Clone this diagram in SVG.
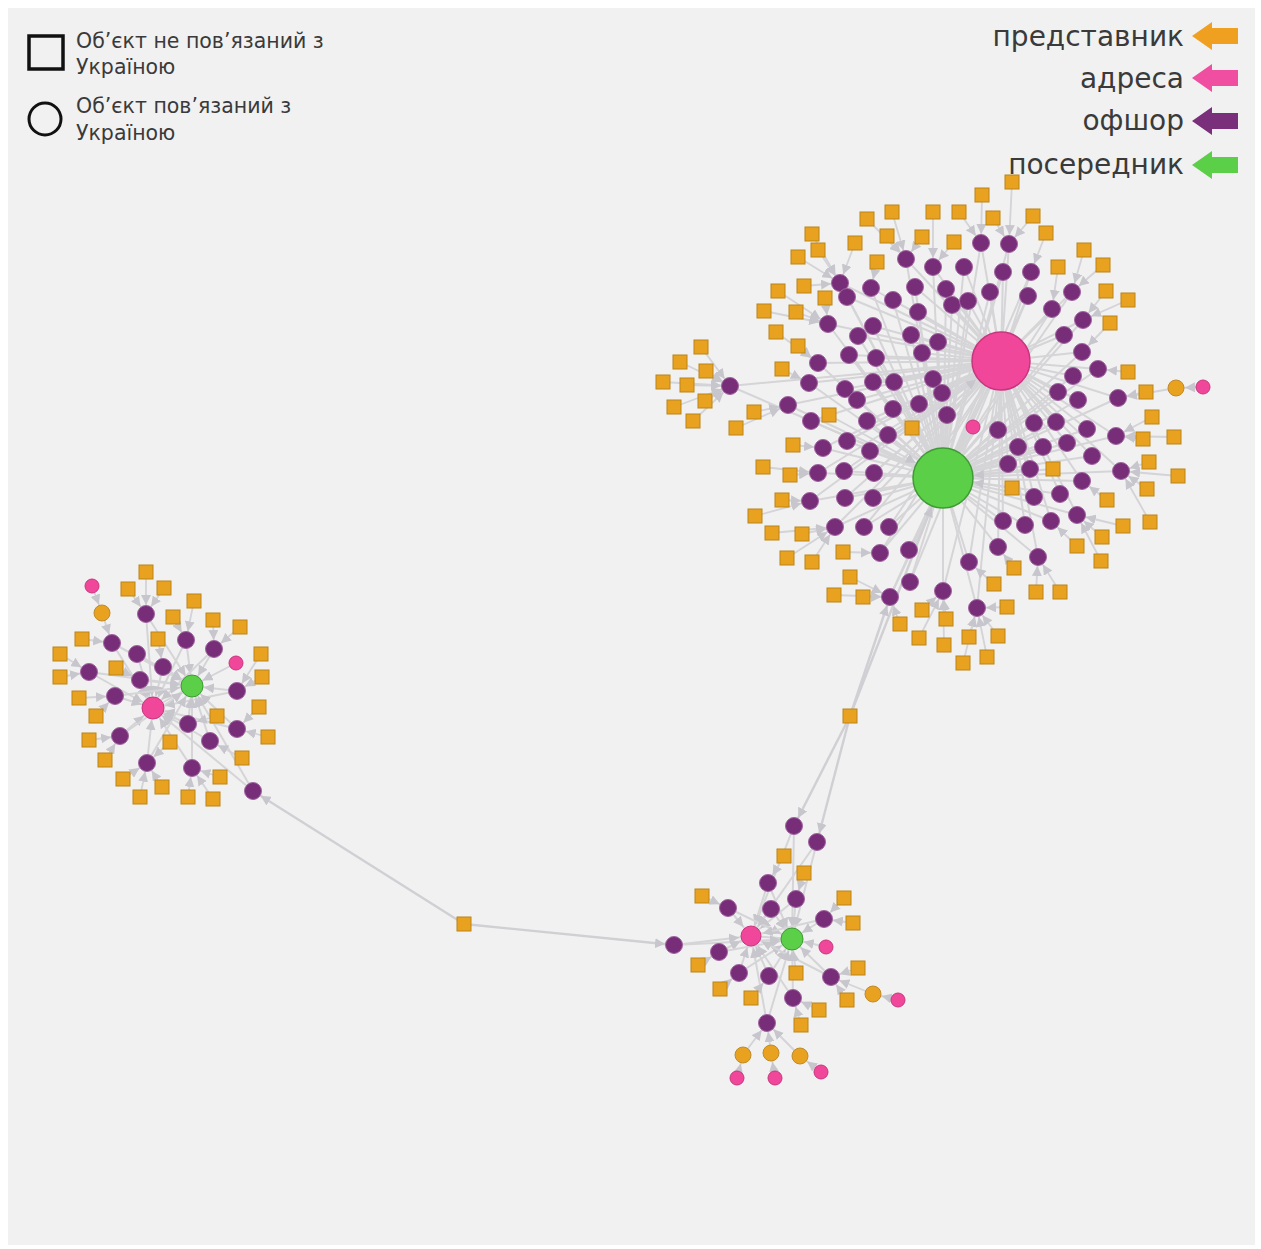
<svg xmlns="http://www.w3.org/2000/svg" xmlns:xlink="http://www.w3.org/1999/xlink" width="1261" height="1249" viewBox="0 0 1261 1249">
<style>
.e{stroke:#d3d3d8;stroke-width:1.8;fill:none}
.h{stroke:#d5d5d8;stroke-width:2;fill:none}
.l{stroke:#cfcfd4;stroke-width:2.4;fill:none}
.t{font-family:"DejaVu Sans","Liberation Sans",sans-serif;fill:#3a3a3a}
.tl{font-size:20.5px}
.tr{font-size:28px;text-anchor:end}
</style>
<defs>
<marker id="a8" viewBox="0 0 10 10" refX="19" refY="5" markerWidth="10" markerHeight="10" markerUnits="userSpaceOnUse" orient="auto"><path d="M0,0L10,5L0,10z" fill="#c6c6cc"/></marker>
<marker id="a11" viewBox="0 0 10 10" refX="22" refY="5" markerWidth="10" markerHeight="10" markerUnits="userSpaceOnUse" orient="auto"><path d="M0,0L10,5L0,10z" fill="#c6c6cc"/></marker>
<marker id="aH" viewBox="0 0 10 10" refX="41" refY="5" markerWidth="10" markerHeight="10" markerUnits="userSpaceOnUse" orient="auto"><path d="M0,0L10,5L0,10z" fill="#c6c6cc"/></marker>
<rect id="sq" x="-7" y="-7" width="14" height="14" fill="#e9a21f" stroke="#b98419" stroke-width="1"/>
<circle id="of" r="8.5" fill="#772d78" stroke="#a0649f" stroke-width="1"/>
<circle id="pk" r="7" fill="#f0479b" stroke="#c8357e" stroke-width="1"/>
<circle id="oc" r="8" fill="#e9a21f" stroke="#c08a2a" stroke-width="1"/>
</defs>
<rect width="1261" height="1249" fill="#ffffff"/>
<rect x="8" y="8" width="1247" height="1237" fill="#f1f1f1"/>

<g id="legend">
<rect x="29" y="36" width="34" height="33" fill="none" stroke="#111" stroke-width="3.5"/>
<text class="t tl" x="76" y="48">Об’єкт не пов’язаний з</text>
<text class="t tl" x="76" y="74">Україною</text>
<circle cx="45" cy="119" r="16" fill="none" stroke="#111" stroke-width="3"/>
<text class="t tl" x="76" y="113">Об’єкт пов’язаний з</text>
<text class="t tl" x="76" y="140">Україною</text>
<text class="t tr" x="1184" y="46">представник</text>
<polygon points="1192,36 1212,22 1212,28 1238,28 1238,44 1212,44 1212,50" fill="#f0a020"/>
<text class="t tr" x="1184" y="88">адреса</text>
<polygon points="1192,78 1212,64 1212,70 1238,70 1238,86 1212,86 1212,92" fill="#f04ea0"/>
<text class="t tr" x="1184" y="130">офшор</text>
<polygon points="1192,121 1212,107 1212,113 1238,113 1238,129 1212,129 1212,135" fill="#7a2f7a"/>
<text class="t tr" x="1184" y="174">посередник</text>
<polygon points="1192,165 1212,151 1212,157 1238,157 1238,173 1212,173 1212,179" fill="#5ccf48"/>
</g>

<g id="connectors">
<path class="h" d="M1001 361L943 478"/>
<path class="h" d="M973 427L943 478"/>
<path class="h" d="M906 259L1001 361"/><path class="h" d="M906 259L943 478"/>
<path class="h" d="M933 267L1001 361"/><path class="h" d="M933 267L943 478"/>
<path class="h" d="M981 243L1001 361"/><path class="h" d="M981 243L943 478"/>
<path class="h" d="M1009 244L1001 361"/><path class="h" d="M1009 244L943 478"/>
<path class="h" d="M964 267L1001 361"/><path class="h" d="M964 267L943 478"/>
<path class="h" d="M1003 272L1001 361"/><path class="h" d="M1003 272L943 478"/>
<path class="h" d="M1031 272L1001 361"/><path class="h" d="M1031 272L943 478"/>
<path class="h" d="M840 283L1001 361"/><path class="h" d="M840 283L943 478"/>
<path class="h" d="M847 297L1001 361"/><path class="h" d="M847 297L943 478"/>
<path class="h" d="M871 288L1001 361"/><path class="h" d="M871 288L943 478"/>
<path class="h" d="M915 287L1001 361"/><path class="h" d="M915 287L943 478"/>
<path class="h" d="M946 289L1001 361"/><path class="h" d="M946 289L943 478"/>
<path class="h" d="M990 292L1001 361"/><path class="h" d="M990 292L943 478"/>
<path class="h" d="M1028 296L1001 361"/><path class="h" d="M1028 296L943 478"/>
<path class="h" d="M1072 292L1001 361"/><path class="h" d="M1072 292L943 478"/>
<path class="h" d="M893 300L1001 361"/><path class="h" d="M893 300L943 478"/>
<path class="h" d="M952 305L1001 361"/><path class="h" d="M952 305L943 478"/>
<path class="h" d="M968 301L1001 361"/><path class="h" d="M968 301L943 478"/>
<path class="h" d="M918 312L1001 361"/><path class="h" d="M918 312L943 478"/>
<path class="h" d="M1052 309L1001 361"/><path class="h" d="M1052 309L943 478"/>
<path class="h" d="M828 324L1001 361"/><path class="h" d="M828 324L943 478"/>
<path class="h" d="M873 326L1001 361"/><path class="h" d="M873 326L943 478"/>
<path class="h" d="M858 336L1001 361"/><path class="h" d="M858 336L943 478"/>
<path class="h" d="M911 335L1001 361"/><path class="h" d="M911 335L943 478"/>
<path class="h" d="M938 342L1001 361"/><path class="h" d="M938 342L943 478"/>
<path class="h" d="M1064 335L1001 361"/><path class="h" d="M1064 335L943 478"/>
<path class="h" d="M1083 320L1001 361"/><path class="h" d="M1083 320L943 478"/>
<path class="h" d="M849 355L1001 361"/><path class="h" d="M849 355L943 478"/>
<path class="h" d="M876 358L1001 361"/><path class="h" d="M876 358L943 478"/>
<path class="h" d="M922 353L1001 361"/><path class="h" d="M922 353L943 478"/>
<path class="h" d="M818 363L1001 361"/><path class="h" d="M818 363L943 478"/>
<path class="h" d="M1082 352L1001 361"/><path class="h" d="M1082 352L943 478"/>
<path class="h" d="M1098 369L1001 361"/><path class="h" d="M1098 369L943 478"/>
<path class="h" d="M1073 376L1001 361"/><path class="h" d="M1073 376L943 478"/>
<path class="h" d="M873 382L1001 361"/><path class="h" d="M873 382L943 478"/>
<path class="h" d="M894 382L1001 361"/><path class="h" d="M894 382L943 478"/>
<path class="h" d="M933 379L1001 361"/><path class="h" d="M933 379L943 478"/>
<path class="h" d="M845 389L1001 361"/><path class="h" d="M845 389L943 478"/>
<path class="h" d="M857 400L1001 361"/><path class="h" d="M857 400L943 478"/>
<path class="h" d="M809 383L1001 361"/><path class="h" d="M809 383L943 478"/>
<path class="h" d="M942 393L1001 361"/><path class="h" d="M942 393L943 478"/>
<path class="h" d="M730 386L1001 361"/><path class="h" d="M730 386L943 478"/>
<path class="h" d="M788 405L1001 361"/><path class="h" d="M788 405L943 478"/>
<path class="h" d="M893 409L1001 361"/><path class="h" d="M893 409L943 478"/>
<path class="h" d="M919 404L1001 361"/><path class="h" d="M919 404L943 478"/>
<path class="h" d="M947 415L1001 361"/><path class="h" d="M947 415L943 478"/>
<path class="h" d="M811 421L1001 361"/><path class="h" d="M811 421L943 478"/>
<path class="h" d="M867 421L1001 361"/><path class="h" d="M867 421L943 478"/>
<path class="h" d="M1058 392L1001 361"/><path class="h" d="M1058 392L943 478"/>
<path class="h" d="M1078 400L1001 361"/><path class="h" d="M1078 400L943 478"/>
<path class="h" d="M1118 398L1001 361"/><path class="h" d="M1118 398L943 478"/>
<path class="h" d="M888 435L1001 361"/><path class="h" d="M888 435L943 478"/>
<path class="h" d="M847 441L1001 361"/><path class="h" d="M847 441L943 478"/>
<path class="h" d="M823 448L1001 361"/><path class="h" d="M823 448L943 478"/>
<path class="h" d="M870 451L1001 361"/><path class="h" d="M870 451L943 478"/>
<path class="h" d="M818 473L1001 361"/><path class="h" d="M818 473L943 478"/>
<path class="h" d="M844 471L1001 361"/><path class="h" d="M844 471L943 478"/>
<path class="h" d="M874 473L1001 361"/><path class="h" d="M874 473L943 478"/>
<path class="h" d="M810 501L1001 361"/><path class="h" d="M810 501L943 478"/>
<path class="h" d="M845 498L1001 361"/><path class="h" d="M845 498L943 478"/>
<path class="h" d="M873 498L1001 361"/><path class="h" d="M873 498L943 478"/>
<path class="h" d="M835 527L1001 361"/><path class="h" d="M835 527L943 478"/>
<path class="h" d="M864 527L1001 361"/><path class="h" d="M864 527L943 478"/>
<path class="h" d="M889 527L1001 361"/><path class="h" d="M889 527L943 478"/>
<path class="h" d="M880 553L1001 361"/><path class="h" d="M880 553L943 478"/>
<path class="h" d="M909 550L1001 361"/><path class="h" d="M909 550L943 478"/>
<path class="h" d="M910 582L1001 361"/><path class="h" d="M910 582L943 478"/>
<path class="h" d="M890 597L1001 361"/><path class="h" d="M890 597L943 478"/>
<path class="h" d="M943 591L1001 361"/><path class="h" d="M943 591L943 478"/>
<path class="h" d="M969 562L1001 361"/><path class="h" d="M969 562L943 478"/>
<path class="h" d="M977 608L1001 361"/><path class="h" d="M977 608L943 478"/>
<path class="h" d="M998 547L1001 361"/><path class="h" d="M998 547L943 478"/>
<path class="h" d="M1003 521L1001 361"/><path class="h" d="M1003 521L943 478"/>
<path class="h" d="M1025 525L1001 361"/><path class="h" d="M1025 525L943 478"/>
<path class="h" d="M1051 521L1001 361"/><path class="h" d="M1051 521L943 478"/>
<path class="h" d="M1038 557L1001 361"/><path class="h" d="M1038 557L943 478"/>
<path class="h" d="M998 430L1001 361"/><path class="h" d="M998 430L943 478"/>
<path class="h" d="M1034 423L1001 361"/><path class="h" d="M1034 423L943 478"/>
<path class="h" d="M1056 422L1001 361"/><path class="h" d="M1056 422L943 478"/>
<path class="h" d="M1087 429L1001 361"/><path class="h" d="M1087 429L943 478"/>
<path class="h" d="M1116 436L1001 361"/><path class="h" d="M1116 436L943 478"/>
<path class="h" d="M1018 447L1001 361"/><path class="h" d="M1018 447L943 478"/>
<path class="h" d="M1043 447L1001 361"/><path class="h" d="M1043 447L943 478"/>
<path class="h" d="M1067 443L1001 361"/><path class="h" d="M1067 443L943 478"/>
<path class="h" d="M1092 456L1001 361"/><path class="h" d="M1092 456L943 478"/>
<path class="h" d="M1008 464L1001 361"/><path class="h" d="M1008 464L943 478"/>
<path class="h" d="M1030 469L1001 361"/><path class="h" d="M1030 469L943 478"/>
<path class="h" d="M1121 471L1001 361"/><path class="h" d="M1121 471L943 478"/>
<path class="h" d="M1082 481L1001 361"/><path class="h" d="M1082 481L943 478"/>
<path class="h" d="M1034 497L1001 361"/><path class="h" d="M1034 497L943 478"/>
<path class="h" d="M1060 494L1001 361"/><path class="h" d="M1060 494L943 478"/>
<path class="h" d="M1077 515L1001 361"/><path class="h" d="M1077 515L943 478"/>

<path class="e" marker-end="url(#a8)" d="M1012 182L1009 244"/>
<path class="e" marker-end="url(#a8)" d="M982 195L981 243"/>
<path class="e" marker-end="url(#a8)" d="M959 212L981 243"/>
<path class="e" marker-end="url(#a8)" d="M993 218L1009 244"/>
<path class="e" marker-end="url(#a8)" d="M1033 216L1009 244"/>
<path class="e" marker-end="url(#a8)" d="M1046 233L1031 272"/>
<path class="e" marker-end="url(#a8)" d="M954 242L933 267"/>
<path class="e" marker-end="url(#a8)" d="M1084 250L1072 292"/>
<path class="e" marker-end="url(#a8)" d="M1058 267L1052 309"/>
<path class="e" marker-end="url(#a8)" d="M1103 265L1072 292"/>
<path class="e" marker-end="url(#a8)" d="M1106 291L1083 320"/>
<path class="e" marker-end="url(#a8)" d="M1128 300L1083 320"/>
<path class="e" marker-end="url(#a8)" d="M1110 323L1082 352"/>
<path class="e" marker-end="url(#a8)" d="M1128 372L1098 369"/>
<path class="e" marker-end="url(#a8)" d="M1146 392L1118 398"/>
<path class="e" marker-end="url(#a8)" d="M1152 417L1116 436"/>
<path class="e" marker-end="url(#a8)" d="M1143 439L1116 436"/>
<path class="e" marker-end="url(#a8)" d="M1174 437L1116 436"/>
<path class="e" marker-end="url(#a8)" d="M1149 462L1121 471"/>
<path class="e" marker-end="url(#a8)" d="M1178 476L1121 471"/>
<path class="e" marker-end="url(#a8)" d="M1147 489L1121 471"/>
<path class="e" marker-end="url(#a8)" d="M1107 500L1082 481"/>
<path class="e" marker-end="url(#a8)" d="M1123 526L1077 515"/>
<path class="e" marker-end="url(#a8)" d="M1150 522L1121 471"/>
<path class="e" marker-end="url(#a8)" d="M1102 537L1077 515"/>
<path class="e" marker-end="url(#a8)" d="M1077 546L1051 521"/>
<path class="e" marker-end="url(#a8)" d="M1101 561L1077 515"/>
<path class="e" marker-end="url(#aH)" d="M1053 469L943 478"/>
<path class="e" marker-end="url(#aH)" d="M1012 488L943 478"/>
<path class="e" marker-end="url(#a8)" d="M1014 568L998 547"/>
<path class="e" marker-end="url(#a8)" d="M994 584L969 562"/>
<path class="e" marker-end="url(#a8)" d="M1036 592L1038 557"/>
<path class="e" marker-end="url(#a8)" d="M1060 592L1038 557"/>
<path class="e" marker-end="url(#a8)" d="M1007 607L977 608"/>
<path class="e" marker-end="url(#a8)" d="M969 637L977 608"/>
<path class="e" marker-end="url(#a8)" d="M998 636L977 608"/>
<path class="e" marker-end="url(#a8)" d="M987 657L977 608"/>
<path class="e" marker-end="url(#a8)" d="M963 663L977 608"/>
<path class="e" marker-end="url(#a8)" d="M892 212L906 259"/>
<path class="e" marker-end="url(#a8)" d="M933 212L933 267"/>
<path class="e" marker-end="url(#a8)" d="M867 219L906 259"/>
<path class="e" marker-end="url(#a8)" d="M812 234L840 283"/>
<path class="e" marker-end="url(#a8)" d="M887 236L906 259"/>
<path class="e" marker-end="url(#a8)" d="M922 237L906 259"/>
<path class="e" marker-end="url(#a8)" d="M855 243L840 283"/>
<path class="e" marker-end="url(#a8)" d="M818 250L840 283"/>
<path class="e" marker-end="url(#a8)" d="M877 262L871 288"/>
<path class="e" marker-end="url(#a8)" d="M798 257L840 283"/>
<path class="e" marker-end="url(#a8)" d="M804 286L840 283"/>
<path class="e" marker-end="url(#a8)" d="M778 291L828 324"/>
<path class="e" marker-end="url(#a8)" d="M825 298L828 324"/>
<path class="e" marker-end="url(#a8)" d="M764 311L828 324"/>
<path class="e" marker-end="url(#a8)" d="M796 312L828 324"/>
<path class="e" marker-end="url(#a8)" d="M776 332L818 363"/>
<path class="e" marker-end="url(#a8)" d="M798 346L818 363"/>
<path class="e" marker-end="url(#a8)" d="M782 369L809 383"/>
<path class="e" marker-end="url(#a8)" d="M701 347L730 386"/>
<path class="e" marker-end="url(#a8)" d="M680 362L730 386"/>
<path class="e" marker-end="url(#a8)" d="M706 371L730 386"/>
<path class="e" marker-end="url(#a8)" d="M663 382L730 386"/>
<path class="e" marker-end="url(#a8)" d="M687 385L730 386"/>
<path class="e" marker-end="url(#a8)" d="M705 401L730 386"/>
<path class="e" marker-end="url(#a8)" d="M674 407L730 386"/>
<path class="e" marker-end="url(#a8)" d="M693 421L730 386"/>
<path class="e" marker-end="url(#a8)" d="M754 412L788 405"/>
<path class="e" marker-end="url(#a8)" d="M736 428L788 405"/>
<path class="e" marker-end="url(#aH)" d="M829 415L943 478"/>
<path class="e" marker-end="url(#aH)" d="M912 428L1001 361"/>
<path class="e" marker-end="url(#a8)" d="M793 445L823 448"/>
<path class="e" marker-end="url(#a8)" d="M763 467L818 473"/>
<path class="e" marker-end="url(#a8)" d="M790 475L818 473"/>
<path class="e" marker-end="url(#a8)" d="M782 500L810 501"/>
<path class="e" marker-end="url(#a8)" d="M755 516L810 501"/>
<path class="e" marker-end="url(#a8)" d="M772 533L835 527"/>
<path class="e" marker-end="url(#a8)" d="M802 534L835 527"/>
<path class="e" marker-end="url(#a8)" d="M787 558L835 527"/>
<path class="e" marker-end="url(#a8)" d="M812 562L835 527"/>
<path class="e" marker-end="url(#a8)" d="M843 552L880 553"/>
<path class="e" marker-end="url(#a8)" d="M850 577L890 597"/>
<path class="e" marker-end="url(#a8)" d="M834 595L890 597"/>
<path class="e" marker-end="url(#a8)" d="M863 597L890 597"/>
<path class="e" marker-end="url(#a8)" d="M922 610L943 591"/>
<path class="e" marker-end="url(#a8)" d="M946 619L943 591"/>
<path class="e" marker-end="url(#a8)" d="M900 624L890 597"/>
<path class="e" marker-end="url(#a8)" d="M919 638L943 591"/>
<path class="e" marker-end="url(#a8)" d="M944 645L943 591"/>
<path class="e" marker-end="url(#a8)" d="M1176 388L1118 398"/>
<path class="e" marker-end="url(#a8)" d="M1203 387L1176 388"/>

<path class="l" marker-end="url(#aH)" d="M850 716L943 478"/>
<path class="l" marker-end="url(#a8)" d="M850 716L890 597"/>
<path class="l" marker-end="url(#a8)" d="M850 716L794 826"/>
<path class="l" marker-end="url(#a8)" d="M850 716L817 842"/>
<path class="l" marker-end="url(#a8)" d="M464 924L253 791"/>
<path class="l" marker-end="url(#a8)" d="M464 924L674 945"/>

<path class="h" d="M153 708L192 686"/>
<path class="h" marker-end="url(#a11)" d="M146 614L153 708"/><path class="h" marker-end="url(#a11)" d="M146 614L192 686"/>
<path class="h" marker-end="url(#a11)" d="M112 643L153 708"/><path class="h" marker-end="url(#a11)" d="M112 643L192 686"/>
<path class="h" marker-end="url(#a11)" d="M137 654L153 708"/><path class="h" marker-end="url(#a11)" d="M137 654L192 686"/>
<path class="h" marker-end="url(#a11)" d="M163 667L153 708"/><path class="h" marker-end="url(#a11)" d="M163 667L192 686"/>
<path class="h" marker-end="url(#a11)" d="M186 640L153 708"/><path class="h" marker-end="url(#a11)" d="M186 640L192 686"/>
<path class="h" marker-end="url(#a11)" d="M214 649L153 708"/><path class="h" marker-end="url(#a11)" d="M214 649L192 686"/>
<path class="h" marker-end="url(#a11)" d="M89 672L153 708"/><path class="h" marker-end="url(#a11)" d="M89 672L192 686"/>
<path class="h" marker-end="url(#a11)" d="M140 680L153 708"/><path class="h" marker-end="url(#a11)" d="M140 680L192 686"/>
<path class="h" marker-end="url(#a11)" d="M115 696L153 708"/><path class="h" marker-end="url(#a11)" d="M115 696L192 686"/>
<path class="h" marker-end="url(#a11)" d="M237 691L153 708"/><path class="h" marker-end="url(#a11)" d="M237 691L192 686"/>
<path class="h" marker-end="url(#a11)" d="M188 724L153 708"/><path class="h" marker-end="url(#a11)" d="M188 724L192 686"/>
<path class="h" marker-end="url(#a11)" d="M210 741L153 708"/><path class="h" marker-end="url(#a11)" d="M210 741L192 686"/>
<path class="h" marker-end="url(#a11)" d="M237 729L153 708"/><path class="h" marker-end="url(#a11)" d="M237 729L192 686"/>
<path class="h" marker-end="url(#a11)" d="M120 736L153 708"/><path class="h" marker-end="url(#a11)" d="M120 736L192 686"/>
<path class="h" marker-end="url(#a11)" d="M147 763L153 708"/><path class="h" marker-end="url(#a11)" d="M147 763L192 686"/>
<path class="h" marker-end="url(#a11)" d="M192 768L153 708"/><path class="h" marker-end="url(#a11)" d="M192 768L192 686"/>
<path class="h" marker-end="url(#a11)" d="M253 791L153 708"/><path class="h" marker-end="url(#a11)" d="M253 791L192 686"/>
<path class="e" marker-end="url(#a8)" d="M146 572L146 614"/>
<path class="e" marker-end="url(#a8)" d="M128 589L146 614"/>
<path class="e" marker-end="url(#a8)" d="M164 588L146 614"/>
<path class="e" marker-end="url(#a8)" d="M194 601L186 640"/>
<path class="e" marker-end="url(#a8)" d="M173 617L186 640"/>
<path class="e" marker-end="url(#a8)" d="M213 620L214 649"/>
<path class="e" marker-end="url(#a8)" d="M240 627L214 649"/>
<path class="e" marker-end="url(#a8)" d="M158 639L163 667"/>
<path class="e" marker-end="url(#a8)" d="M82 639L112 643"/>
<path class="e" marker-end="url(#a8)" d="M60 654L89 672"/>
<path class="e" marker-end="url(#a8)" d="M116 668L140 680"/>
<path class="e" marker-end="url(#a8)" d="M261 654L237 691"/>
<path class="e" marker-end="url(#a8)" d="M60 677L89 672"/>
<path class="e" marker-end="url(#a8)" d="M262 677L237 691"/>
<path class="e" marker-end="url(#a8)" d="M79 698L115 696"/>
<path class="e" marker-end="url(#a8)" d="M96 716L115 696"/>
<path class="e" marker-end="url(#a8)" d="M259 707L237 729"/>
<path class="e" marker-end="url(#a8)" d="M217 716L188 724"/>
<path class="e" marker-end="url(#a8)" d="M89 740L120 736"/>
<path class="e" marker-end="url(#a8)" d="M170 742L147 763"/>
<path class="e" marker-end="url(#a8)" d="M268 737L237 729"/>
<path class="e" marker-end="url(#a8)" d="M105 760L120 736"/>
<path class="e" marker-end="url(#a8)" d="M242 758L210 741"/>
<path class="e" marker-end="url(#a8)" d="M220 777L192 768"/>
<path class="e" marker-end="url(#a8)" d="M123 779L147 763"/>
<path class="e" marker-end="url(#a8)" d="M162 787L147 763"/>
<path class="e" marker-end="url(#a8)" d="M140 797L147 763"/>
<path class="e" marker-end="url(#a8)" d="M188 797L192 768"/>
<path class="e" marker-end="url(#a8)" d="M213 799L192 768"/>
<path class="e" marker-end="url(#a8)" d="M102 613L112 643"/>
<path class="e" marker-end="url(#a8)" d="M92 586L102 613"/>
<path class="e" marker-end="url(#a11)" d="M236 663L192 686"/>

<path class="h" d="M751 936L792 939"/>
<path class="h" marker-end="url(#a11)" d="M794 826L751 936"/><path class="h" marker-end="url(#a11)" d="M794 826L792 939"/>
<path class="h" marker-end="url(#a11)" d="M817 842L751 936"/><path class="h" marker-end="url(#a11)" d="M817 842L792 939"/>
<path class="h" marker-end="url(#a11)" d="M768 883L751 936"/><path class="h" marker-end="url(#a11)" d="M768 883L792 939"/>
<path class="h" marker-end="url(#a11)" d="M796 899L751 936"/><path class="h" marker-end="url(#a11)" d="M796 899L792 939"/>
<path class="h" marker-end="url(#a11)" d="M728 908L751 936"/><path class="h" marker-end="url(#a11)" d="M728 908L792 939"/>
<path class="h" marker-end="url(#a11)" d="M771 909L751 936"/><path class="h" marker-end="url(#a11)" d="M771 909L792 939"/>
<path class="h" marker-end="url(#a11)" d="M824 919L751 936"/><path class="h" marker-end="url(#a11)" d="M824 919L792 939"/>
<path class="h" marker-end="url(#a11)" d="M674 945L751 936"/><path class="h" marker-end="url(#a11)" d="M674 945L792 939"/>
<path class="h" marker-end="url(#a11)" d="M719 952L751 936"/><path class="h" marker-end="url(#a11)" d="M719 952L792 939"/>
<path class="h" marker-end="url(#a11)" d="M739 973L751 936"/><path class="h" marker-end="url(#a11)" d="M739 973L792 939"/>
<path class="h" marker-end="url(#a11)" d="M769 976L751 936"/><path class="h" marker-end="url(#a11)" d="M769 976L792 939"/>
<path class="h" marker-end="url(#a11)" d="M831 977L751 936"/><path class="h" marker-end="url(#a11)" d="M831 977L792 939"/>
<path class="h" marker-end="url(#a11)" d="M793 998L751 936"/><path class="h" marker-end="url(#a11)" d="M793 998L792 939"/>
<path class="h" marker-end="url(#a11)" d="M767 1023L751 936"/><path class="h" marker-end="url(#a11)" d="M767 1023L792 939"/>
<path class="e" marker-end="url(#a8)" d="M784 856L768 883"/>
<path class="e" marker-end="url(#a8)" d="M804 873L796 899"/>
<path class="e" marker-end="url(#a8)" d="M702 896L728 908"/>
<path class="e" marker-end="url(#a8)" d="M844 898L824 919"/>
<path class="e" marker-end="url(#a8)" d="M853 923L824 919"/>
<path class="e" marker-end="url(#a8)" d="M698 965L719 952"/>
<path class="e" marker-end="url(#a11)" d="M796 973L792 939"/>
<path class="e" marker-end="url(#a8)" d="M858 968L831 977"/>
<path class="e" marker-end="url(#a8)" d="M720 989L739 973"/>
<path class="e" marker-end="url(#a8)" d="M751 998L769 976"/>
<path class="e" marker-end="url(#a8)" d="M819 1010L793 998"/>
<path class="e" marker-end="url(#a8)" d="M847 1000L831 977"/>
<path class="e" marker-end="url(#a8)" d="M801 1025L793 998"/>
<path class="e" marker-end="url(#a8)" d="M873 994L831 977"/>
<path class="e" marker-end="url(#a8)" d="M898 1000L873 994"/>
<path class="e" marker-end="url(#a8)" d="M743 1055L767 1023"/>
<path class="e" marker-end="url(#a8)" d="M771 1053L767 1023"/>
<path class="e" marker-end="url(#a8)" d="M800 1056L767 1023"/>
<path class="e" marker-end="url(#a8)" d="M737 1078L743 1055"/>
<path class="e" marker-end="url(#a8)" d="M775 1078L771 1053"/>
<path class="e" marker-end="url(#a8)" d="M821 1072L800 1056"/>
<path class="e" marker-end="url(#a11)" d="M826 947L792 939"/>
</g>

<g id="nodes">
<g id="hubP"><circle cx="1001" cy="361" r="29" fill="#f0479b" stroke="#c8357e" stroke-width="1.5"/></g>
<g id="hubG"><circle cx="943" cy="478" r="30" fill="#5ccf48" stroke="#3f9a35" stroke-width="1.5"/></g>
<g id="pkb1"><use href="#pk" x="973" y="427"/></g>
<g id="ocb1"><use href="#oc" x="1176" y="388"/></g>
<g id="pkb2"><use href="#pk" x="1203" y="387"/></g>
<g id="b1"><use href="#of" x="906" y="259"/></g>
<g id="b2"><use href="#of" x="933" y="267"/></g>
<g id="b3"><use href="#of" x="981" y="243"/></g>
<g id="b4"><use href="#of" x="1009" y="244"/></g>
<g id="b5"><use href="#of" x="964" y="267"/></g>
<g id="b6"><use href="#of" x="1003" y="272"/></g>
<g id="b7"><use href="#of" x="1031" y="272"/></g>
<g id="b8"><use href="#of" x="840" y="283"/></g>
<g id="b9"><use href="#of" x="847" y="297"/></g>
<g id="b10"><use href="#of" x="871" y="288"/></g>
<g id="b11"><use href="#of" x="915" y="287"/></g>
<g id="b12"><use href="#of" x="946" y="289"/></g>
<g id="b13"><use href="#of" x="990" y="292"/></g>
<g id="b14"><use href="#of" x="1028" y="296"/></g>
<g id="b15"><use href="#of" x="1072" y="292"/></g>
<g id="b16"><use href="#of" x="893" y="300"/></g>
<g id="b17"><use href="#of" x="952" y="305"/></g>
<g id="b18"><use href="#of" x="968" y="301"/></g>
<g id="b19"><use href="#of" x="918" y="312"/></g>
<g id="b20"><use href="#of" x="1052" y="309"/></g>
<g id="b21"><use href="#of" x="828" y="324"/></g>
<g id="b22"><use href="#of" x="873" y="326"/></g>
<g id="b23"><use href="#of" x="858" y="336"/></g>
<g id="b24"><use href="#of" x="911" y="335"/></g>
<g id="b25"><use href="#of" x="938" y="342"/></g>
<g id="b26"><use href="#of" x="1064" y="335"/></g>
<g id="b27"><use href="#of" x="1083" y="320"/></g>
<g id="b28"><use href="#of" x="849" y="355"/></g>
<g id="b29"><use href="#of" x="876" y="358"/></g>
<g id="b30"><use href="#of" x="922" y="353"/></g>
<g id="b31"><use href="#of" x="818" y="363"/></g>
<g id="b32"><use href="#of" x="1082" y="352"/></g>
<g id="b33"><use href="#of" x="1098" y="369"/></g>
<g id="b34"><use href="#of" x="1073" y="376"/></g>
<g id="b35"><use href="#of" x="873" y="382"/></g>
<g id="b36"><use href="#of" x="894" y="382"/></g>
<g id="b37"><use href="#of" x="933" y="379"/></g>
<g id="b38"><use href="#of" x="845" y="389"/></g>
<g id="b39"><use href="#of" x="857" y="400"/></g>
<g id="b40"><use href="#of" x="809" y="383"/></g>
<g id="b41"><use href="#of" x="942" y="393"/></g>
<g id="b42"><use href="#of" x="730" y="386"/></g>
<g id="b43"><use href="#of" x="788" y="405"/></g>
<g id="b44"><use href="#of" x="893" y="409"/></g>
<g id="b45"><use href="#of" x="919" y="404"/></g>
<g id="b46"><use href="#of" x="947" y="415"/></g>
<g id="b47"><use href="#of" x="811" y="421"/></g>
<g id="b48"><use href="#of" x="867" y="421"/></g>
<g id="b49"><use href="#of" x="1058" y="392"/></g>
<g id="b50"><use href="#of" x="1078" y="400"/></g>
<g id="b51"><use href="#of" x="1118" y="398"/></g>
<g id="b52"><use href="#of" x="888" y="435"/></g>
<g id="b53"><use href="#of" x="847" y="441"/></g>
<g id="b54"><use href="#of" x="823" y="448"/></g>
<g id="b55"><use href="#of" x="870" y="451"/></g>
<g id="b56"><use href="#of" x="818" y="473"/></g>
<g id="b57"><use href="#of" x="844" y="471"/></g>
<g id="b58"><use href="#of" x="874" y="473"/></g>
<g id="b59"><use href="#of" x="810" y="501"/></g>
<g id="b60"><use href="#of" x="845" y="498"/></g>
<g id="b61"><use href="#of" x="873" y="498"/></g>
<g id="b62"><use href="#of" x="835" y="527"/></g>
<g id="b63"><use href="#of" x="864" y="527"/></g>
<g id="b64"><use href="#of" x="889" y="527"/></g>
<g id="b65"><use href="#of" x="880" y="553"/></g>
<g id="b66"><use href="#of" x="909" y="550"/></g>
<g id="b67"><use href="#of" x="910" y="582"/></g>
<g id="b68"><use href="#of" x="890" y="597"/></g>
<g id="b69"><use href="#of" x="943" y="591"/></g>
<g id="b70"><use href="#of" x="969" y="562"/></g>
<g id="b71"><use href="#of" x="977" y="608"/></g>
<g id="b72"><use href="#of" x="998" y="547"/></g>
<g id="b73"><use href="#of" x="1003" y="521"/></g>
<g id="b74"><use href="#of" x="1025" y="525"/></g>
<g id="b75"><use href="#of" x="1051" y="521"/></g>
<g id="b76"><use href="#of" x="1038" y="557"/></g>
<g id="b77"><use href="#of" x="998" y="430"/></g>
<g id="b78"><use href="#of" x="1034" y="423"/></g>
<g id="b79"><use href="#of" x="1056" y="422"/></g>
<g id="b80"><use href="#of" x="1087" y="429"/></g>
<g id="b81"><use href="#of" x="1116" y="436"/></g>
<g id="b82"><use href="#of" x="1018" y="447"/></g>
<g id="b83"><use href="#of" x="1043" y="447"/></g>
<g id="b84"><use href="#of" x="1067" y="443"/></g>
<g id="b85"><use href="#of" x="1092" y="456"/></g>
<g id="b86"><use href="#of" x="1008" y="464"/></g>
<g id="b87"><use href="#of" x="1030" y="469"/></g>
<g id="b88"><use href="#of" x="1121" y="471"/></g>
<g id="b89"><use href="#of" x="1082" y="481"/></g>
<g id="b90"><use href="#of" x="1034" y="497"/></g>
<g id="b91"><use href="#of" x="1060" y="494"/></g>
<g id="b92"><use href="#of" x="1077" y="515"/></g>

<g id="s1"><use href="#sq" x="1012" y="182"/></g>
<g id="s2"><use href="#sq" x="982" y="195"/></g>
<g id="s3"><use href="#sq" x="959" y="212"/></g>
<g id="s4"><use href="#sq" x="993" y="218"/></g>
<g id="s5"><use href="#sq" x="1033" y="216"/></g>
<g id="s6"><use href="#sq" x="1046" y="233"/></g>
<g id="s7"><use href="#sq" x="954" y="242"/></g>
<g id="s8"><use href="#sq" x="1084" y="250"/></g>
<g id="s9"><use href="#sq" x="1058" y="267"/></g>
<g id="s10"><use href="#sq" x="1103" y="265"/></g>
<g id="s11"><use href="#sq" x="1106" y="291"/></g>
<g id="s12"><use href="#sq" x="1128" y="300"/></g>
<g id="s13"><use href="#sq" x="1110" y="323"/></g>
<g id="s14"><use href="#sq" x="1128" y="372"/></g>
<g id="s15"><use href="#sq" x="1146" y="392"/></g>
<g id="s16"><use href="#sq" x="1152" y="417"/></g>
<g id="s17"><use href="#sq" x="1143" y="439"/></g>
<g id="s18"><use href="#sq" x="1174" y="437"/></g>
<g id="s19"><use href="#sq" x="1149" y="462"/></g>
<g id="s20"><use href="#sq" x="1178" y="476"/></g>
<g id="s21"><use href="#sq" x="1147" y="489"/></g>
<g id="s22"><use href="#sq" x="1107" y="500"/></g>
<g id="s23"><use href="#sq" x="1123" y="526"/></g>
<g id="s24"><use href="#sq" x="1150" y="522"/></g>
<g id="s25"><use href="#sq" x="1102" y="537"/></g>
<g id="s26"><use href="#sq" x="1077" y="546"/></g>
<g id="s27"><use href="#sq" x="1101" y="561"/></g>
<g id="s28"><use href="#sq" x="1053" y="469"/></g>
<g id="s29"><use href="#sq" x="1012" y="488"/></g>
<g id="s30"><use href="#sq" x="1014" y="568"/></g>
<g id="s31"><use href="#sq" x="994" y="584"/></g>
<g id="s32"><use href="#sq" x="1036" y="592"/></g>
<g id="s33"><use href="#sq" x="1060" y="592"/></g>
<g id="s34"><use href="#sq" x="1007" y="607"/></g>
<g id="s35"><use href="#sq" x="969" y="637"/></g>
<g id="s36"><use href="#sq" x="998" y="636"/></g>
<g id="s37"><use href="#sq" x="987" y="657"/></g>
<g id="s38"><use href="#sq" x="963" y="663"/></g>
<g id="s39"><use href="#sq" x="892" y="212"/></g>
<g id="s40"><use href="#sq" x="933" y="212"/></g>
<g id="s41"><use href="#sq" x="867" y="219"/></g>
<g id="s42"><use href="#sq" x="812" y="234"/></g>
<g id="s43"><use href="#sq" x="887" y="236"/></g>
<g id="s44"><use href="#sq" x="922" y="237"/></g>
<g id="s45"><use href="#sq" x="855" y="243"/></g>
<g id="s46"><use href="#sq" x="818" y="250"/></g>
<g id="s47"><use href="#sq" x="877" y="262"/></g>
<g id="s48"><use href="#sq" x="798" y="257"/></g>
<g id="s49"><use href="#sq" x="804" y="286"/></g>
<g id="s50"><use href="#sq" x="778" y="291"/></g>
<g id="s51"><use href="#sq" x="825" y="298"/></g>
<g id="s52"><use href="#sq" x="764" y="311"/></g>
<g id="s53"><use href="#sq" x="796" y="312"/></g>
<g id="s54"><use href="#sq" x="776" y="332"/></g>
<g id="s55"><use href="#sq" x="798" y="346"/></g>
<g id="s56"><use href="#sq" x="782" y="369"/></g>
<g id="s57"><use href="#sq" x="701" y="347"/></g>
<g id="s58"><use href="#sq" x="680" y="362"/></g>
<g id="s59"><use href="#sq" x="706" y="371"/></g>
<g id="s60"><use href="#sq" x="663" y="382"/></g>
<g id="s61"><use href="#sq" x="687" y="385"/></g>
<g id="s62"><use href="#sq" x="705" y="401"/></g>
<g id="s63"><use href="#sq" x="674" y="407"/></g>
<g id="s64"><use href="#sq" x="693" y="421"/></g>
<g id="s65"><use href="#sq" x="754" y="412"/></g>
<g id="s66"><use href="#sq" x="736" y="428"/></g>
<g id="s67"><use href="#sq" x="829" y="415"/></g>
<g id="s68"><use href="#sq" x="912" y="428"/></g>
<g id="s69"><use href="#sq" x="793" y="445"/></g>
<g id="s70"><use href="#sq" x="763" y="467"/></g>
<g id="s71"><use href="#sq" x="790" y="475"/></g>
<g id="s72"><use href="#sq" x="782" y="500"/></g>
<g id="s73"><use href="#sq" x="755" y="516"/></g>
<g id="s74"><use href="#sq" x="772" y="533"/></g>
<g id="s75"><use href="#sq" x="802" y="534"/></g>
<g id="s76"><use href="#sq" x="787" y="558"/></g>
<g id="s77"><use href="#sq" x="812" y="562"/></g>
<g id="s78"><use href="#sq" x="843" y="552"/></g>
<g id="s79"><use href="#sq" x="850" y="577"/></g>
<g id="s80"><use href="#sq" x="834" y="595"/></g>
<g id="s81"><use href="#sq" x="863" y="597"/></g>
<g id="s82"><use href="#sq" x="922" y="610"/></g>
<g id="s83"><use href="#sq" x="946" y="619"/></g>
<g id="s84"><use href="#sq" x="900" y="624"/></g>
<g id="s85"><use href="#sq" x="919" y="638"/></g>
<g id="s86"><use href="#sq" x="944" y="645"/></g>
<g id="s87"><use href="#sq" x="850" y="716"/></g>
<g id="s88"><use href="#sq" x="464" y="924"/></g>

<g id="hubLP"><circle cx="153" cy="708" r="11" fill="#f0479b" stroke="#c8357e" stroke-width="1"/></g>
<g id="hubLG"><circle cx="192" cy="686" r="11" fill="#5ccf48" stroke="#3f9a35" stroke-width="1"/></g>
<g id="lpk1"><use href="#pk" x="92" y="586"/></g>
<g id="lpk2"><use href="#pk" x="236" y="663"/></g>
<g id="loc1"><use href="#oc" x="102" y="613"/></g>
<g id="l1"><use href="#of" x="146" y="614"/></g>
<g id="l2"><use href="#of" x="112" y="643"/></g>
<g id="l3"><use href="#of" x="137" y="654"/></g>
<g id="l4"><use href="#of" x="163" y="667"/></g>
<g id="l5"><use href="#of" x="186" y="640"/></g>
<g id="l6"><use href="#of" x="214" y="649"/></g>
<g id="l7"><use href="#of" x="89" y="672"/></g>
<g id="l8"><use href="#of" x="140" y="680"/></g>
<g id="l9"><use href="#of" x="115" y="696"/></g>
<g id="l10"><use href="#of" x="237" y="691"/></g>
<g id="l11"><use href="#of" x="188" y="724"/></g>
<g id="l12"><use href="#of" x="210" y="741"/></g>
<g id="l13"><use href="#of" x="237" y="729"/></g>
<g id="l14"><use href="#of" x="120" y="736"/></g>
<g id="l15"><use href="#of" x="147" y="763"/></g>
<g id="l16"><use href="#of" x="192" y="768"/></g>
<g id="l17"><use href="#of" x="253" y="791"/></g>
<g id="ls1"><use href="#sq" x="146" y="572"/></g>
<g id="ls2"><use href="#sq" x="128" y="589"/></g>
<g id="ls3"><use href="#sq" x="164" y="588"/></g>
<g id="ls4"><use href="#sq" x="194" y="601"/></g>
<g id="ls5"><use href="#sq" x="173" y="617"/></g>
<g id="ls6"><use href="#sq" x="213" y="620"/></g>
<g id="ls7"><use href="#sq" x="240" y="627"/></g>
<g id="ls8"><use href="#sq" x="158" y="639"/></g>
<g id="ls9"><use href="#sq" x="82" y="639"/></g>
<g id="ls10"><use href="#sq" x="60" y="654"/></g>
<g id="ls11"><use href="#sq" x="116" y="668"/></g>
<g id="ls12"><use href="#sq" x="261" y="654"/></g>
<g id="ls13"><use href="#sq" x="60" y="677"/></g>
<g id="ls14"><use href="#sq" x="262" y="677"/></g>
<g id="ls15"><use href="#sq" x="79" y="698"/></g>
<g id="ls16"><use href="#sq" x="96" y="716"/></g>
<g id="ls17"><use href="#sq" x="259" y="707"/></g>
<g id="ls18"><use href="#sq" x="217" y="716"/></g>
<g id="ls19"><use href="#sq" x="89" y="740"/></g>
<g id="ls20"><use href="#sq" x="170" y="742"/></g>
<g id="ls21"><use href="#sq" x="268" y="737"/></g>
<g id="ls22"><use href="#sq" x="105" y="760"/></g>
<g id="ls23"><use href="#sq" x="242" y="758"/></g>
<g id="ls24"><use href="#sq" x="220" y="777"/></g>
<g id="ls25"><use href="#sq" x="123" y="779"/></g>
<g id="ls26"><use href="#sq" x="162" y="787"/></g>
<g id="ls27"><use href="#sq" x="140" y="797"/></g>
<g id="ls28"><use href="#sq" x="188" y="797"/></g>
<g id="ls29"><use href="#sq" x="213" y="799"/></g>

<g id="hubBP"><circle cx="751" cy="936" r="10" fill="#f0479b" stroke="#c8357e" stroke-width="1"/></g>
<g id="hubBG"><circle cx="792" cy="939" r="11" fill="#5ccf48" stroke="#3f9a35" stroke-width="1"/></g>
<g id="m1"><use href="#of" x="794" y="826"/></g>
<g id="m2"><use href="#of" x="817" y="842"/></g>
<g id="m3"><use href="#of" x="768" y="883"/></g>
<g id="m4"><use href="#of" x="796" y="899"/></g>
<g id="m5"><use href="#of" x="728" y="908"/></g>
<g id="m6"><use href="#of" x="771" y="909"/></g>
<g id="m7"><use href="#of" x="824" y="919"/></g>
<g id="m8"><use href="#of" x="674" y="945"/></g>
<g id="m9"><use href="#of" x="719" y="952"/></g>
<g id="m10"><use href="#of" x="739" y="973"/></g>
<g id="m11"><use href="#of" x="769" y="976"/></g>
<g id="m12"><use href="#of" x="831" y="977"/></g>
<g id="m13"><use href="#of" x="793" y="998"/></g>
<g id="m14"><use href="#of" x="767" y="1023"/></g>
<g id="ms1"><use href="#sq" x="784" y="856"/></g>
<g id="ms2"><use href="#sq" x="804" y="873"/></g>
<g id="ms3"><use href="#sq" x="702" y="896"/></g>
<g id="ms4"><use href="#sq" x="844" y="898"/></g>
<g id="ms5"><use href="#sq" x="853" y="923"/></g>
<g id="ms6"><use href="#sq" x="698" y="965"/></g>
<g id="ms7"><use href="#sq" x="796" y="973"/></g>
<g id="ms8"><use href="#sq" x="858" y="968"/></g>
<g id="ms9"><use href="#sq" x="720" y="989"/></g>
<g id="ms10"><use href="#sq" x="751" y="998"/></g>
<g id="ms11"><use href="#sq" x="819" y="1010"/></g>
<g id="ms12"><use href="#sq" x="847" y="1000"/></g>
<g id="ms13"><use href="#sq" x="801" y="1025"/></g>
<g id="moc1"><use href="#oc" x="873" y="994"/></g>
<g id="moc2"><use href="#oc" x="743" y="1055"/></g>
<g id="moc3"><use href="#oc" x="771" y="1053"/></g>
<g id="moc4"><use href="#oc" x="800" y="1056"/></g>
<g id="mpk1"><use href="#pk" x="826" y="947"/></g>
<g id="mpk2"><use href="#pk" x="898" y="1000"/></g>
<g id="mpk3"><use href="#pk" x="737" y="1078"/></g>
<g id="mpk4"><use href="#pk" x="775" y="1078"/></g>
<g id="mpk5"><use href="#pk" x="821" y="1072"/></g>
</g>
</svg>
